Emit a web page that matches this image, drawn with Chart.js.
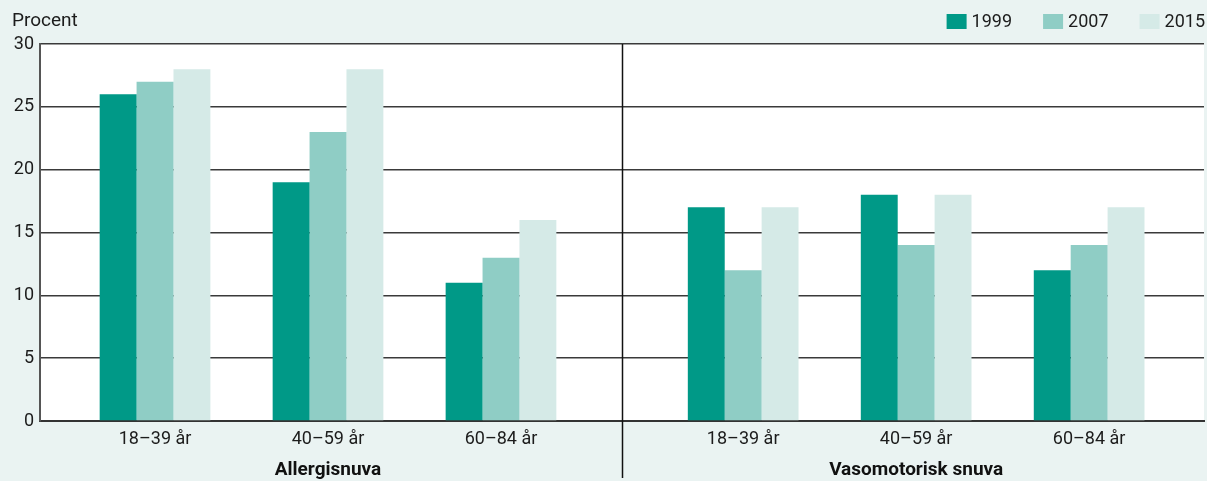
<!DOCTYPE html>
<html lang="sv">
<head>
<meta charset="utf-8">
<title>Snuva efter ålder 1999, 2007 och 2015</title>
<script src="https://cdn.jsdelivr.net/npm/chart.js@4/dist/chart.umd.min.js"></script>
<style>
  html, body { margin: 0; padding: 0; background: #EAF3F2; }
  #wrap { position: relative; width: 1207px; height: 481px; }
</style>
</head>
<body>
<div id="wrap"><canvas id="chart" width="1207" height="481"></canvas></div>
<script>
// Age groups, repeated for each type of rhinitis
const ageGroups = ['18–39 år', '40–59 år', '60–84 år'];
const rhinitisTypes = ['Allergisnuva', 'Vasomotorisk snuva'];
const years = ['1999', '2007', '2015'];

// Share (percent) per age group: first Allergisnuva, then Vasomotorisk snuva
const values1999 = [26, 19, 11, 17, 18, 12];
const values2007 = [27, 23, 13, 12, 14, 14];
const values2015 = [28, 28, 16, 17, 18, 17];

const yTicks = [0, 5, 10, 15, 20, 25, 30];

const colors = ['#009987', '#8FCDC5', '#D5EAE7'];
const FONT = 'Roboto, "Open Sans", sans-serif';
const FONT_SIZE = 18;

// Each rhinitis type is a block of age groups; a gap separates the two blocks
const labels = rhinitisTypes.flatMap(() => ageGroups);
const positions = labels.map((_, i) => i + Math.floor(i / ageGroups.length) * 0.4);
const blockCenters = rhinitisTypes.map((_, b) => positions[b * ageGroups.length + 1]);
const separatorX = (positions[ageGroups.length - 1] + positions[ageGroups.length]) / 2;

const series = [values1999, values2007, values2015];
const datasets = years.map((yr, k) => ({
  label: yr,
  data: series[k].map((v, i) => ({ x: positions[i], y: v })),
  backgroundColor: colors[k],
  borderWidth: 0,
  barPercentage: 1,
  categoryPercentage: 0.64
}));

const decorations = {
  id: 'decorations',
  beforeDraw(chart) {
    const { ctx, chartArea: a } = chart;
    ctx.save();
    ctx.fillStyle = '#FFFFFF';
    ctx.fillRect(a.left, a.top, a.right - a.left, a.bottom - a.top);
    ctx.restore();
  },
  afterDraw(chart) {
    const { ctx, chartArea: a, scales } = chart;
    ctx.save();
    // unit label above the y axis
    ctx.fillStyle = '#1c1c1c';
    ctx.font = '19px ' + FONT;
    ctx.textAlign = 'left';
    ctx.textBaseline = 'middle';
    ctx.fillText('Procent', 12, 21);

    // legend along the top edge, running up to the right border
    ctx.font = FONT_SIZE + 'px ' + FONT;
    const itemGap = 31, boxW = 20, boxH = 15, textGap = 5;
    const widths = years.map(y => ctx.measureText(y).width);
    let x = 1207 - 2 - widths.reduce((s, w) => s + boxW + textGap + w, 0) - itemGap * (years.length - 1);
    years.forEach((y, k) => {
      ctx.fillStyle = colors[k];
      ctx.fillRect(x, 14, boxW, boxH);
      x += boxW + textGap;
      ctx.fillStyle = '#1c1c1c';
      ctx.fillText(y, x, 22);
      x += widths[k] + itemGap;
    });

    // separator between the two types of rhinitis
    const sx = Math.round(scales.x.getPixelForValue(separatorX)) + 0.5;
    ctx.strokeStyle = '#111';
    ctx.lineWidth = 1.5;
    ctx.beginPath();
    ctx.moveTo(sx, a.top);
    ctx.lineTo(sx, chart.height - 3);
    ctx.stroke();

    // block titles under the age labels
    ctx.font = 'bold 19px ' + FONT;
    ctx.textAlign = 'center';
    ctx.fillStyle = '#111';
    rhinitisTypes.forEach((t, b) => {
      ctx.fillText(t, scales.x.getPixelForValue(blockCenters[b]), 470);
    });
    ctx.restore();
  }
};

new Chart(document.getElementById('chart'), {
  type: 'bar',
  data: { datasets },
  plugins: [decorations],
  options: {
    responsive: false,
    animation: false,
    layout: { padding: { top: 44, right: 3, bottom: 0, left: 0 } },
    plugins: {
      legend: { display: false },
      tooltip: { enabled: false },
      title: { display: false }
    },
    scales: {
      x: {
        type: 'linear',
        offset: false,
        min: -0.665,
        max: 6.064,
        afterBuildTicks(scale) {
          scale.ticks = positions.map(v => ({ value: v }));
        },
        afterFit(scale) { scale.height = 60; },
        grid: { display: false, drawTicks: false, offset: false },
        border: { display: true, color: '#333', width: 2 },
        ticks: {
          autoSkip: false,
          maxRotation: 0,
          padding: 8,
          color: '#1c1c1c',
          font: { family: FONT, size: FONT_SIZE },
          callback(value, index) { return labels[index]; }
        }
      },
      y: {
        min: 0,
        max: 30,
        afterBuildTicks(scale) {
          scale.ticks = yTicks.map(v => ({ value: v }));
        },
        afterFit(scale) { scale.width = 40; },
        grid: { color: '#3a3a3a', lineWidth: 1.5, drawTicks: false },
        border: { display: true, color: '#555', width: 2 },
        ticks: {
          padding: 6,
          color: '#1c1c1c',
          font: { family: FONT, size: FONT_SIZE }
        }
      }
    }
  }
});
</script>
</body>
</html>
